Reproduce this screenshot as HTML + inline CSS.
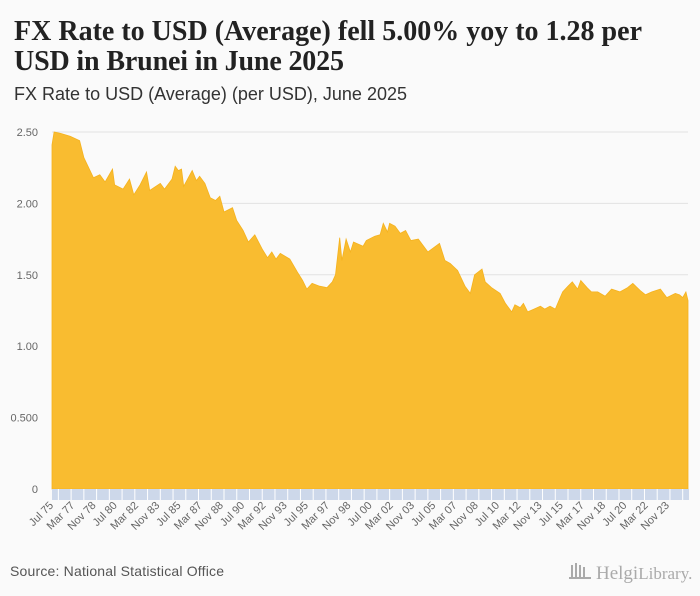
<!DOCTYPE html>
<html><head><meta charset="utf-8"><style>
body{margin:0;background:#fafafa;}
svg{display:block;font-family:"Liberation Sans",sans-serif;}
</style></head><body>
<svg width="700" height="596" viewBox="0 0 700 596">
<rect width="700" height="596" fill="#fafafa"/>
<text x="14" y="40" font-family="Liberation Serif,serif" font-weight="bold" font-size="28" fill="#222" textLength="628">FX Rate to USD (Average) fell 5.00% yoy to 1.28 per</text>
<text x="14" y="70" font-family="Liberation Serif,serif" font-weight="bold" font-size="28" fill="#222" textLength="330">USD in Brunei in June 2025</text>
<text x="14" y="100" font-size="18" fill="#333" textLength="393">FX Rate to USD (Average) (per USD), June 2025</text>
<g id="grid"></g>
<path id="area" fill="#f9bc30" stroke="#f5b21e" stroke-width="0.8"/>
<rect x="52" y="489" width="637" height="11" fill="#cdd8ea"/>
<g id="xaxis"></g>
<text x="10" y="576" font-size="14" fill="#555" textLength="214">Source: National Statistical Office</text>
<g fill="#aaa">
<rect x="571" y="565" width="2" height="12"/><rect x="575" y="563" width="2" height="14"/><rect x="579" y="565" width="2" height="12"/><rect x="583" y="567" width="2" height="10"/><rect x="569" y="577" width="22" height="2"/>
<text x="596" y="579" font-family="Liberation Serif,serif" font-size="19" fill="#aaa">Helgi<tspan font-size="17">Library.</tspan></text>
</g>
</svg>
<script>
const months=[0,2,8,17,26,30,39,45,50,57,
59,67,73,77,83,89,92,102,106,113,
116,119,122,124,132,136,139,144,149,154,
158,162,170,174,180,185,191,198,203,207,
211,215,224,231,236,240,245,252,259,264,
267,271,273,277,281,284,293,296,304,309,
312,316,318,323,328,333,338,345,354,365,
370,375,382,389,394,398,405,408,414,422,
427,433,436,441,444,448,454,460,464,469,
474,478,481,486,490,495,498,504,508,514,
521,527,535,542,547,554,559,565,573,579,
587,591,594,597,599];
const values=[2.41,2.50,2.49,2.47,2.44,2.32,2.18,2.20,2.15,2.24,
2.13,2.10,2.17,2.06,2.13,2.22,2.09,2.14,2.10,2.17,
2.26,2.23,2.24,2.12,2.23,2.16,2.19,2.14,2.04,2.02,
2.05,1.94,1.97,1.88,1.81,1.73,1.78,1.68,1.62,1.66,
1.61,1.65,1.61,1.52,1.46,1.40,1.44,1.42,1.41,1.45,
1.50,1.76,1.60,1.75,1.66,1.73,1.70,1.74,1.77,1.78,
1.86,1.80,1.86,1.84,1.79,1.81,1.74,1.75,1.66,1.72,
1.60,1.58,1.53,1.42,1.37,1.50,1.54,1.45,1.41,1.37,
1.30,1.24,1.29,1.27,1.30,1.24,1.26,1.28,1.26,1.28,
1.26,1.33,1.38,1.42,1.45,1.40,1.46,1.41,1.38,1.38,
1.35,1.40,1.38,1.41,1.44,1.39,1.36,1.38,1.40,1.34,
1.37,1.36,1.34,1.38,1.32];
const yTicks=[0,0.5,1,1.5,2,2.5];
const yTickLabels=["0","0.500","1.00","1.50","2.00","2.50"];
const xLabels=["Jul 75","Mar 77","Nov 78","Jul 80","Mar 82","Nov 83","Jul 85","Mar 87","Nov 88","Jul 90","Mar 92","Nov 93","Jul 95","Mar 97","Nov 98","Jul 00","Mar 02","Nov 03","Jul 05","Mar 07","Nov 08","Jul 10","Mar 12","Nov 13","Jul 15","Mar 17","Nov 18","Jul 20","Mar 22","Nov 23"];
const NS="http://www.w3.org/2000/svg";
const X0=52,X1=688,TOTAL=599,Y0=489,PX=142.8;
function xs(m){return X0+m*(X1-X0)/TOTAL;}
function ys(v){return Y0-v*PX;}
const grid=document.getElementById('grid');
yTicks.forEach((t,i)=>{
 if(t>0){const l=document.createElementNS(NS,'line');
 l.setAttribute('x1',X0);l.setAttribute('x2',X1);l.setAttribute('y1',ys(t));l.setAttribute('y2',ys(t));
 l.setAttribute('stroke','#e2e2e2');l.setAttribute('stroke-width','1');
 
 
 grid.appendChild(l);}
 const tx=document.createElementNS(NS,'text');
 tx.setAttribute('x',38);tx.setAttribute('y',ys(t)+4);tx.setAttribute('text-anchor','end');
 tx.setAttribute('font-size','11');tx.setAttribute('fill','#666');tx.textContent=yTickLabels[i];
 
 
 grid.appendChild(tx);
});
const n=Math.min(months.length,values.length);
let d='M'+xs(months[0])+','+Y0;
for(let i=0;i<n;i++){d+=' L'+xs(months[i]).toFixed(1)+','+ys(values[i]).toFixed(1);}
d+=' L'+xs(months[n-1])+','+Y0+' Z';
document.getElementById('area').setAttribute('d',d);
const xa=document.getElementById('xaxis');
for(let m=6;m<TOTAL;m+=12){
 const l=document.createElementNS(NS,'line');
 l.setAttribute('x1',xs(m));l.setAttribute('x2',xs(m));l.setAttribute('y1',489);l.setAttribute('y2',500);
 l.setAttribute('stroke','#fff');l.setAttribute('stroke-width','1');
 
 
 xa.appendChild(l);
}
xLabels.forEach((lab,i)=>{
 const x=xs(i*20);
 const t=document.createElementNS(NS,'text');
 t.setAttribute('x',x+2);t.setAttribute('y',506);t.setAttribute('text-anchor','end');
 t.setAttribute('font-size','11');t.setAttribute('fill','#666');
 t.setAttribute('transform','rotate(-45 '+(x+2)+' 506)');
 t.textContent=lab;
 
 
 xa.appendChild(t);
});
</script>
</body></html>
